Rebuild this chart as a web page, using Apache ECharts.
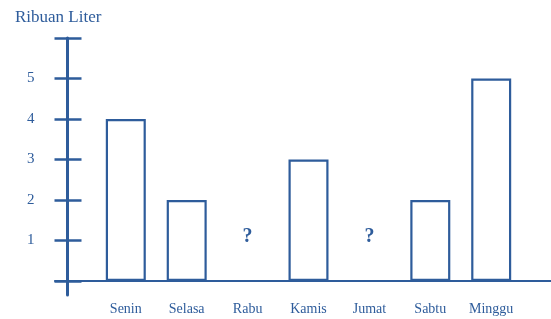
<!DOCTYPE html>
<html>
<head>
<meta charset="utf-8">
<script src="https://cdn.jsdelivr.net/npm/echarts@6/dist/echarts.min.js"></script>
<style>html,body{margin:0;padding:0;background:#fff}#c{width:551px;height:319px}</style>
</head>
<body>
<div id="c"></div>
<script>
const categories = ['Senin', 'Selasa', 'Rabu', 'Kamis', 'Jumat', 'Sabtu', 'Minggu'];
const values = [4, 2, null, 3, null, 2, 5];
const yTickValues = [0, 1, 2, 3, 4, 5, 6];
const yLabelValues = [1, 2, 3, 4, 5];
const yTitle = 'Ribuan Liter';

const blue = '#2e5c9b';
const serif = 'Liberation Serif';

const chart = echarts.init(document.getElementById('c'), null, {renderer: 'canvas'});

const unknownData = values.map(v => v == null ? 0 : '-');

const decoYAxis = (inside) => ({
  type: 'value', gridIndex: 1, min: -0.3457, max: 6, offset: -12.5,
  position: 'left',
  axisLine: {show: !inside, onZero: false, lineStyle: {color: blue, width: 3}},
  axisTick: {show: true, inside: inside, length: inside ? 14 : 13, customValues: yTickValues,
             lineStyle: {color: blue, width: 2.5}},
  axisLabel: inside ? {show: false} : {show: true, customValues: yLabelValues, margin: 33,
             color: blue, fontFamily: serif, fontSize: 15},
  splitLine: {show: false}
});

chart.setOption({
  animation: false,
  title: {text: yTitle, left: 10, top: 4,
          textStyle: {fontFamily: serif, fontSize: 17, fontWeight: 'normal', color: blue}},
  grid: [
    {left: 95.35, right: 29.35, top: 38, bottom: 38},
    {left: 55, right: 0, top: 38, bottom: 24}
  ],
  xAxis: [
    {type: 'category', gridIndex: 0, data: categories,
     axisLine: {show: false}, axisTick: {show: false},
     axisLabel: {margin: 21, color: blue, fontFamily: serif, fontSize: 14}},
    {type: 'value', gridIndex: 1, min: 0, max: 1,
     axisLine: {show: true, onZero: true, lineStyle: {color: blue, width: 2}},
     axisTick: {show: false}, axisLabel: {show: false}, splitLine: {show: false}}
  ],
  yAxis: [
    {type: 'value', gridIndex: 0, min: 0, max: 6, show: false, splitLine: {show: false}},
    decoYAxis(false),
    decoYAxis(true)
  ],
  series: [
    {type: 'bar', xAxisIndex: 0, yAxisIndex: 0, data: values, barWidth: 40,
     itemStyle: {color: '#fff', borderColor: blue, borderWidth: 2.2}},
    {type: 'bar', xAxisIndex: 0, yAxisIndex: 0, data: unknownData, barWidth: 40, barGap: '-100%',
     itemStyle: {color: 'transparent', borderWidth: 0},
     label: {show: true, position: 'top', distance: 34, formatter: '?',
             color: blue, fontFamily: serif, fontSize: 20, fontWeight: 'bold'}}
  ]
});
</script>
</body>
</html>
